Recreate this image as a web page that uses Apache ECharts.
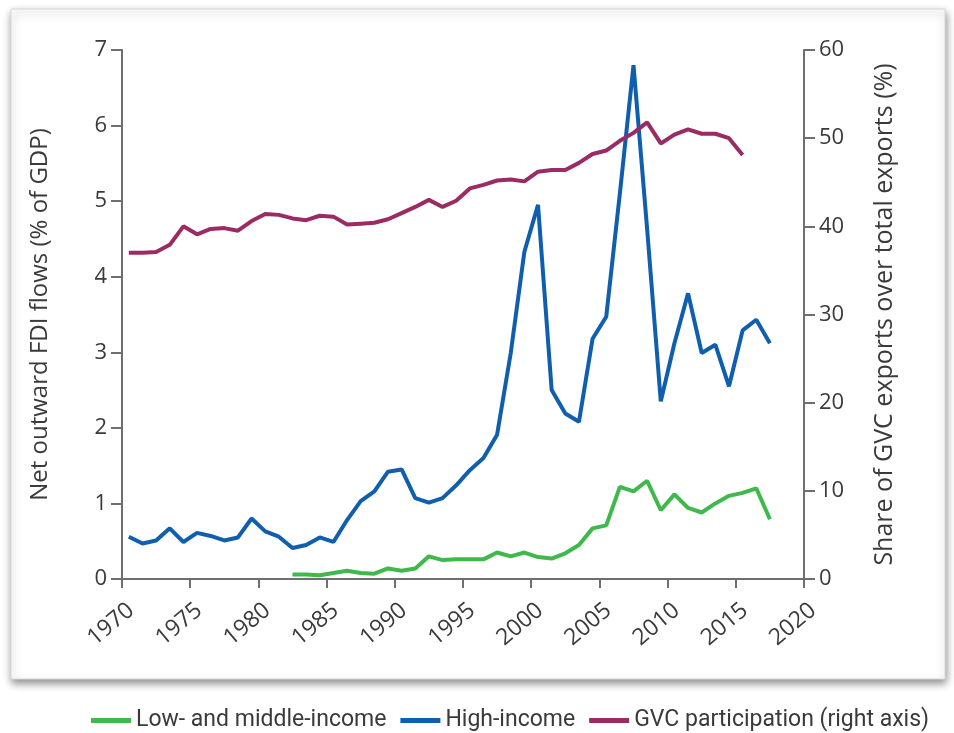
<!DOCTYPE html>
<html>
<head>
<meta charset="utf-8">
<script src="https://cdn.jsdelivr.net/npm/echarts@6/dist/echarts.min.js"></script>
<style>
  html, body { margin: 0; padding: 0; background: #fff; }
  #chart { width: 954px; height: 733px; }
</style>
</head>
<body>
<div id="chart"></div>
<script>
// years 1970..2017, values plotted at mid-year
const years = [1970,1971,1972,1973,1974,1975,1976,1977,1978,1979,
  1980,1981,1982,1983,1984,1985,1986,1987,1988,1989,
  1990,1991,1992,1993,1994,1995,1996,1997,1998,1999,
  2000,2001,2002,2003,2004,2005,2006,2007,2008,2009,
  2010,2011,2012,2013,2014,2015,2016,2017]

// Low- and middle-income, % of GDP (starts 1982)
const lowMiddle = [null,null,null,null,null,null,null,null,null,null,
  null,null,0.06,0.06,0.05,0.08,0.11,0.08,0.07,0.14,
  0.11,0.14,0.30,0.25,0.26,0.26,0.26,0.35,0.30,0.35,
  0.29,0.27,0.34,0.45,0.67,0.71,1.22,1.16,1.30,0.91,
  1.12,0.94,0.88,1.00,1.10,1.14,1.20,0.79]

// High-income, % of GDP
const highIncome = [0.56,0.47,0.51,0.67,0.49,0.61,0.57,0.51,0.55,0.80,
  0.63,0.56,0.41,0.45,0.55,0.49,0.78,1.03,1.16,1.42,
  1.45,1.07,1.01,1.07,1.24,1.44,1.60,1.91,2.99,4.33,
  4.95,2.50,2.19,2.08,3.18,3.47,5.10,6.80,4.63,2.35,
  3.12,3.78,2.99,3.10,2.55,3.29,3.43,3.12]

// GVC participation, % (right axis, ends 2015)
const gvc = [37.0,37.0,37.1,37.9,40.0,39.1,39.7,39.8,39.5,40.6,
  41.4,41.3,40.9,40.7,41.2,41.1,40.2,40.3,40.4,40.8,
  41.5,42.2,43.0,42.2,42.9,44.3,44.7,45.2,45.3,45.1,
  46.2,46.4,46.4,47.2,48.2,48.6,49.7,50.6,51.8,49.4,
  50.4,51.0,50.5,50.5,50.0,48.1,null,null]

const toPoints = (arr) => years.map((y, i) => [y + 0.5, arr[i]])

const axisColor = '#6f6f6f'
const textColor = '#3a3a3a'
const font = 'Open Sans'

let chart = echarts.init(document.getElementById('chart'))
chart.setOption({
  animation: false,
  textStyle: { fontFamily: font },
  graphic: [
    {
      type: 'rect',
      z: -10,
      shape: { x: 11, y: 9, width: 934, height: 670 },
      style: {
        fill: '#fff',
        stroke: '#d8d8d8',
        lineWidth: 1,
        shadowBlur: 8,
        shadowOffsetY: 4,
        shadowOffsetX: 1,
        shadowColor: 'rgba(0,0,0,0.45)'
      }
    }
  ],
  grid: { left: 122, right: 150, top: 50, bottom: 154 },
  legend: {
    left: 86,
    top: 704,
    width: 866,
    icon: 'rect',
    itemWidth: 40,
    itemHeight: 5,
    itemGap: 14,
    textStyle: { fontFamily: 'Roboto', fontSize: 23, color: textColor },
    data: ['Low- and middle-income', 'High-income', 'GVC participation (right axis)']
  },
  xAxis: {
    type: 'value',
    min: 1970,
    max: 2020,
    interval: 5,
    axisLine: { show: true, lineStyle: { color: axisColor, width: 2 } },
    axisTick: { show: true, length: 9, lineStyle: { color: axisColor, width: 2 } },
    splitLine: { show: false },
    axisLabel: {
      rotate: 40,
      fontSize: 23,
      color: textColor,
      margin: 36,
      align: 'center',
      verticalAlign: 'middle',
      padding: [0, 29, 0, 0],
      formatter: (v) => String(v)
    }
  },
  yAxis: [
    {
      type: 'value',
      min: 0,
      max: 7,
      interval: 1,
      name: 'Net outward FDI flows (% of GDP)',
      nameLocation: 'middle',
      nameGap: 70,
      nameTextStyle: { fontSize: 24, color: textColor },
      axisLine: { show: true, lineStyle: { color: axisColor, width: 2 } },
      axisTick: { show: true, length: 11, lineStyle: { color: axisColor, width: 2 } },
      splitLine: { show: false },
      axisLabel: { fontSize: 22, color: textColor, margin: 15 }
    },
    {
      type: 'value',
      min: 0,
      max: 60,
      interval: 10,
      position: 'right',
      name: 'Share of GVC exports over total exports (%)',
      nameLocation: 'middle',
      nameGap: 68,
      nameRotate: 90,
      nameTextStyle: { fontSize: 25, color: textColor },
      axisLine: { show: true, lineStyle: { color: axisColor, width: 2 } },
      axisTick: { show: true, length: 11, lineStyle: { color: axisColor, width: 2 } },
      splitLine: { show: false },
      axisLabel: { fontSize: 22, color: textColor, margin: 15 }
    }
  ],
  series: [
    {
      name: 'Low- and middle-income',
      type: 'line',
      data: toPoints(lowMiddle),
      showSymbol: false,
      itemStyle: { color: '#3fb94b' },
      lineStyle: { color: '#3fb94b', width: 4 }
    },
    {
      name: 'High-income',
      type: 'line',
      data: toPoints(highIncome),
      showSymbol: false,
      itemStyle: { color: '#0f5fae' },
      lineStyle: { color: '#0f5fae', width: 4 }
    },
    {
      name: 'GVC participation (right axis)',
      type: 'line',
      yAxisIndex: 1,
      data: toPoints(gvc),
      showSymbol: false,
      itemStyle: { color: '#9a2b63' },
      lineStyle: { color: '#9a2b63', width: 4 }
    }
  ]
})
</script>
</body>
</html>
